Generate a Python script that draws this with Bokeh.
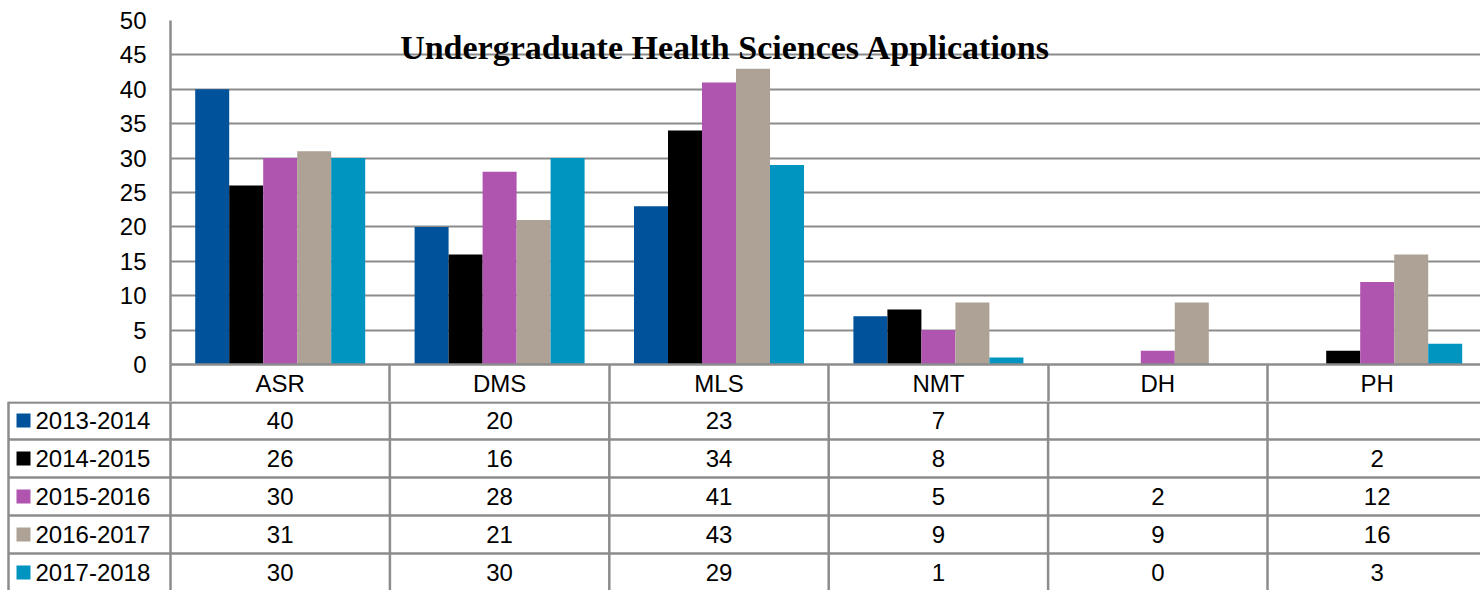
from bokeh.plotting import figure
from bokeh.models import (Range1d, FixedTicker, Label, ColumnDataSource,
                          LinearAxis, Grid)
from bokeh.layouts import column
from bokeh.embed import file_html
from bokeh.resources import INLINE
from bokeh.core.properties import value
from bokeh.transform import dodge

# ---------------- data ----------------
title = "Undergraduate Health Sciences Applications"
categories = ["ASR", "DMS", "MLS", "NMT", "DH", "PH"]
years = ["2013-2014", "2014-2015", "2015-2016", "2016-2017", "2017-2018"]
v_2013_2014 = [40, 20, 23, 7, None, None]
v_2014_2015 = [26, 16, 34, 8, None, 2]
v_2015_2016 = [30, 28, 41, 5, 2, 12]
v_2016_2017 = [31, 21, 43, 9, 9, 16]
v_2017_2018 = [30, 30, 29, 1, 0, 3]
series = [v_2013_2014, v_2014_2015, v_2015_2016, v_2016_2017, v_2017_2018]
y_ticks = [0, 5, 10, 15, 20, 25, 30, 35, 40, 45, 50]

# ---------------- style / layout ----------------
colors = ["#00529B", "#000000", "#B055AF", "#ADA295", "#0094C1"]
GRID = "#8c8c8c"
FONT = "Liberation Sans"
FS = "24px"
W = 1480          # figure width
H = 590
COL = 219.4       # px per category column
LEFT = 170        # px left of plot frame
TOP = 20
PLOT_H = 344
HEAD = 37
HA = TOP + PLOT_H + HEAD
HB = H - HA
ROW = 38
BW = 34.0 / COL   # bar width in data units
x_end = (W - LEFT) / COL
centers = [i + 0.5 for i in range(len(categories))]

# ---------------- chart ----------------
pa = figure(width=W, height=HA, x_range=Range1d(0, x_end), y_range=Range1d(0, 50),
            output_backend="svg", toolbar_location=None,
            x_axis_location=None, y_axis_location=None,
            min_border_left=LEFT, min_border_right=0,
            min_border_top=TOP, min_border_bottom=HEAD,
            frame_align=False)
pa.outline_line_color = None
pa.background_fill_color = "white"
pa.border_fill_color = "white"
for g in pa.grid:
    g.visible = False

ygrid = Grid(dimension=1, ticker=FixedTicker(ticks=y_ticks),
             grid_line_color=GRID, grid_line_width=2)
pa.add_layout(ygrid)

yaxis = LinearAxis(ticker=FixedTicker(ticks=y_ticks))
yaxis.axis_line_color = GRID
yaxis.axis_line_width = 2.5
yaxis.major_tick_line_color = None
yaxis.minor_tick_line_color = None
yaxis.major_tick_out = 0
yaxis.major_tick_in = 0
yaxis.major_label_standoff = 24
yaxis.major_label_text_font = FONT
yaxis.major_label_text_font_size = FS
yaxis.major_label_text_color = "#000000"
pa.add_layout(yaxis, "left")

xaxis = LinearAxis(ticker=FixedTicker(ticks=centers,
                                      minor_ticks=list(range(len(categories) + 1))))
xaxis.major_label_overrides = {c: cat for c, cat in zip(centers, categories)}
xaxis.axis_line_color = GRID
xaxis.axis_line_width = 2.5
xaxis.major_tick_line_color = None
xaxis.major_tick_out = 0
xaxis.major_tick_in = 0
xaxis.minor_tick_line_color = GRID
xaxis.minor_tick_line_width = 2.5
xaxis.minor_tick_out = HEAD
xaxis.minor_tick_in = 0
xaxis.major_label_standoff = -32
xaxis.major_label_text_font = FONT
xaxis.major_label_text_font_size = FS
xaxis.major_label_text_color = "#000000"
pa.add_layout(xaxis, "below")

for j, (vals, col) in enumerate(zip(series, colors)):
    src = ColumnDataSource(dict(
        x=centers,
        top=[float("nan") if v is None else v for v in vals]))
    pa.vbar(x=dodge("x", (j - 2) * BW), top="top", bottom=0, width=BW,
            source=src, fill_color=col, line_color=None)

pa.add_layout(Label(x=(725 - LEFT) / COL, y=50 - 27 / 6.88, text=title,
                    text_font="Liberation Serif", text_font_style="bold",
                    text_font_size="34px", text_align="center",
                    text_baseline="alphabetic", text_color="#000000"))

# ---------------- data table ----------------
x_start = -LEFT / COL
pb = figure(width=W, height=HB, x_range=Range1d(x_start, x_end),
            y_range=Range1d(HB, 0),
            output_backend="svg", toolbar_location=None,
            x_axis_location=None, y_axis_location=None,
            min_border_left=0, min_border_right=0,
            min_border_top=0, min_border_bottom=0,
            frame_align=False)
pb.outline_line_color = None
for g in pb.grid:
    g.visible = False

table_left = x_start + 8 / COL
row_tops = [1.0] + [ROW * r for r in range(1, len(years))]
pb.segment(x0=table_left, x1=x_end, y0=row_tops, y1=row_tops,
           line_color=GRID, line_width=2.5)
vx = [table_left] + list(range(len(categories)))
pb.segment(x0=vx, x1=vx, y0=0, y1=HB, line_color=GRID, line_width=2.5)

row_centers = [ROW * r + ROW / 2 for r in range(len(years))]

# legend column
pb.rect(x=x_start + 23 / COL, y=row_centers, width=14, height=14,
        width_units="screen", height_units="screen",
        fill_color=colors, line_color=None)
pb.text(x=x_start + 35 / COL, y=row_centers, text=years,
        text_font=value(FONT), text_font_size=FS, text_color="#000000",
        text_align="left", text_baseline="middle")

# value cells
cx, cy, ct = [], [], []
for r, vals in enumerate(series):
    for i, v in enumerate(vals):
        if v is not None:
            cx.append(centers[i])
            cy.append(row_centers[r])
            ct.append(str(v))
pb.text(x=cx, y=cy, text=ct, text_font=value(FONT), text_font_size=FS,
        text_color="#000000", text_align="center", text_baseline="middle")

layout = column(pa, pb, spacing=0)
open("out.html", "w").write(file_html(layout, INLINE))
